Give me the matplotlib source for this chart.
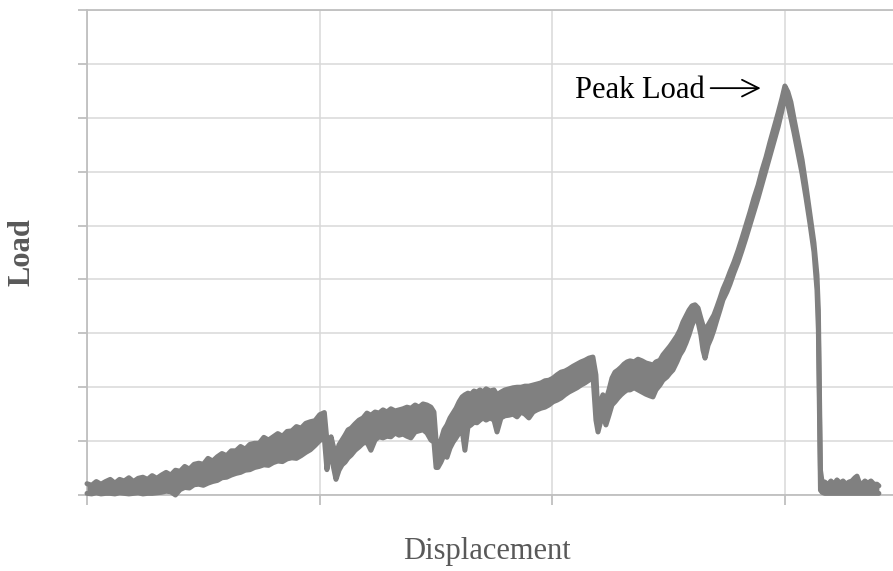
import matplotlib
matplotlib.use("Agg")
import matplotlib.pyplot as plt

# Load-displacement record, read off the picture as the upper and lower
# edge of the noisy band (displacement in mm, load in kN)

# pre-cracking part, 0 - 1.02 mm
disp_a = [0.00, 0.02, 0.04, 0.06, 0.08, 0.10, 0.12, 0.14, 0.16, 0.18,
          0.20, 0.22, 0.24, 0.26, 0.28, 0.30, 0.32, 0.34, 0.36, 0.38,
          0.40, 0.42, 0.44, 0.46, 0.48, 0.50, 0.52, 0.54, 0.56, 0.58,
          0.60, 0.62, 0.64, 0.66, 0.68, 0.70, 0.72, 0.74, 0.76, 0.78,
          0.80, 0.82, 0.84, 0.86, 0.88, 0.90, 0.92, 0.94, 0.96, 0.98,
          1.00, 1.02]
hi_a = [0.21, 0.18, 0.25, 0.20, 0.25, 0.29, 0.22, 0.29, 0.26, 0.32,
        0.25, 0.31, 0.33, 0.29, 0.36, 0.31, 0.37, 0.42, 0.37, 0.46,
        0.44, 0.53, 0.48, 0.57, 0.59, 0.57, 0.68, 0.63, 0.71, 0.77,
        0.73, 0.82, 0.82, 0.90, 0.85, 0.94, 0.96, 0.96, 1.07, 1.02,
        1.08, 1.14, 1.09, 1.18, 1.19, 1.27, 1.24, 1.33, 1.36, 1.38,
        1.49, 1.53]
lo_a = [0.03, 0.02, 0.04, 0.02, 0.03, 0.03, 0.02, 0.04, 0.03, 0.02,
        0.03, 0.04, 0.02, 0.03, 0.03, 0.04, 0.05, 0.07, 0.06, 0.00,
        0.10, 0.14, 0.13, 0.19, 0.20, 0.18, 0.22, 0.25, 0.27, 0.32,
        0.33, 0.37, 0.40, 0.42, 0.46, 0.47, 0.51, 0.53, 0.56, 0.55,
        0.60, 0.63, 0.62, 0.67, 0.69, 0.68, 0.73, 0.79, 0.84, 0.92,
        1.01, 1.05]

# load drops, peak and failure, 1.03 - 3.16 mm
disp_b = [1.031, 1.040, 1.049, 1.057, 1.070, 1.083, 1.096, 1.109, 1.122, 1.135,
          1.152, 1.169, 1.186, 1.203, 1.220, 1.238, 1.255, 1.272, 1.289, 1.306,
          1.324, 1.341, 1.358, 1.375, 1.392, 1.410, 1.427, 1.444, 1.461, 1.478,
          1.491, 1.500, 1.508, 1.521, 1.534, 1.547, 1.560, 1.573, 1.586, 1.599,
          1.612, 1.624, 1.637, 1.650, 1.663, 1.676, 1.689, 1.702, 1.715, 1.732,
          1.749, 1.762, 1.779, 1.796, 1.813, 1.831, 1.848, 1.865, 1.882, 1.899,
          1.917, 1.934, 1.951, 1.968, 1.985, 2.003, 2.020, 2.037, 2.054, 2.071,
          2.089, 2.106, 2.123, 2.140, 2.157, 2.174, 2.187, 2.196, 2.209, 2.217,
          2.230, 2.243, 2.256, 2.269, 2.282, 2.295, 2.308, 2.321, 2.334, 2.351,
          2.368, 2.385, 2.402, 2.419, 2.432, 2.445, 2.462, 2.475, 2.492, 2.505,
          2.518, 2.535, 2.548, 2.561, 2.574, 2.587, 2.600, 2.613, 2.626, 2.638,
          2.647, 2.656, 2.669, 2.682, 2.694, 2.707, 2.720, 2.733, 2.750, 2.763,
          2.780, 2.798, 2.815, 2.832, 2.849, 2.866, 2.884, 2.901, 2.918, 2.935,
          2.952, 2.970, 2.987, 2.999, 3.012, 3.025, 3.038, 3.055, 3.073, 3.090,
          3.107, 3.124, 3.137, 3.143, 3.148, 3.152, 3.159]
hi_b = [1.02, 0.93, 1.08, 0.93, 0.74, 0.93, 1.02, 1.11, 1.21, 1.24,
        1.32, 1.39, 1.43, 1.52, 1.48, 1.54, 1.52, 1.58, 1.54, 1.60,
        1.56, 1.58, 1.60, 1.63, 1.61, 1.67, 1.63, 1.69, 1.67, 1.63,
        1.54, 1.02, 0.74, 1.02, 1.21, 1.30, 1.43, 1.52, 1.61, 1.73,
        1.82, 1.86, 1.89, 1.87, 1.93, 1.91, 1.95, 1.91, 1.97, 1.93,
        1.95, 1.86, 1.91, 1.95, 1.97, 1.99, 2.00, 2.00, 2.02, 2.02,
        2.04, 2.06, 2.08, 2.12, 2.13, 2.17, 2.23, 2.28, 2.30, 2.34,
        2.39, 2.43, 2.47, 2.50, 2.54, 2.56, 2.23, 1.48, 1.76, 1.86,
        1.76, 1.95, 2.17, 2.28, 2.32, 2.37, 2.43, 2.47, 2.49, 2.47,
        2.52, 2.49, 2.45, 2.43, 2.41, 2.47, 2.50, 2.60, 2.69, 2.76,
        2.84, 2.95, 3.06, 3.21, 3.32, 3.43, 3.51, 3.53, 3.47, 3.28,
        3.15, 3.06, 3.15, 3.25, 3.34, 3.49, 3.65, 3.82, 3.99, 4.14,
        4.32, 4.54, 4.77, 5.01, 5.25, 5.51, 5.75, 6.03, 6.27, 6.55,
        6.81, 7.09, 7.37, 7.59, 7.48, 7.29, 6.99, 6.62, 6.22, 5.73,
        5.21, 4.68, 4.08, 3.43, 1.76, 0.46, 0.24]
lo_b = [0.47, 0.74, 0.80, 0.56, 0.29, 0.46, 0.56, 0.61, 0.69, 0.74,
        0.83, 0.89, 0.96, 0.98, 0.83, 1.02, 1.08, 1.06, 1.09, 1.08,
        1.15, 1.11, 1.13, 1.09, 1.06, 1.17, 1.19, 1.21, 1.15, 1.02,
        0.98, 0.51, 0.51, 0.61, 0.74, 0.70, 0.87, 0.98, 1.06, 1.15,
        1.21, 0.83, 1.26, 1.30, 1.35, 1.34, 1.39, 1.43, 1.39, 1.43,
        1.39, 1.17, 1.43, 1.47, 1.48, 1.50, 1.45, 1.54, 1.50, 1.43,
        1.54, 1.58, 1.61, 1.63, 1.67, 1.73, 1.76, 1.80, 1.86, 1.91,
        1.95, 1.99, 2.04, 2.08, 2.13, 2.23, 1.39, 1.17, 1.39, 1.48,
        1.30, 1.48, 1.67, 1.73, 1.80, 1.86, 1.91, 1.95, 1.95, 1.99,
        1.95, 1.91, 1.87, 1.84, 1.82, 1.95, 2.04, 2.13, 2.19, 2.26,
        2.32, 2.47, 2.60, 2.69, 2.82, 2.97, 3.15, 3.28, 3.21, 2.97,
        2.69, 2.54, 2.78, 2.91, 3.06, 3.25, 3.43, 3.62, 3.77, 3.91,
        4.12, 4.32, 4.54, 4.77, 5.01, 5.25, 5.51, 5.77, 6.03, 6.29,
        6.55, 6.83, 7.14, 7.42, 7.24, 6.99, 6.73, 6.36, 5.96, 5.51,
        5.03, 4.51, 3.80, 3.06, 1.39, 0.09, 0.05]

# after failure
disp_c = [3.171, 3.184, 3.197, 3.210, 3.223, 3.236, 3.249, 3.262, 3.274, 3.287,
          3.300, 3.309, 3.318, 3.330, 3.343, 3.356, 3.369, 3.382, 3.395, 3.403]
hi_c = [0.24, 0.19, 0.26, 0.20, 0.28, 0.22, 0.26, 0.20, 0.24, 0.26,
        0.32, 0.35, 0.24, 0.20, 0.26, 0.22, 0.26, 0.20, 0.20, 0.17]
lo_c = [0.03, 0.03, 0.03, 0.03, 0.03, 0.03, 0.03, 0.03, 0.03, 0.03,
        0.03, 0.03, 0.03, 0.03, 0.03, 0.03, 0.03, 0.03, 0.03, 0.03]

disp = disp_a + disp_b + disp_c
load_hi = hi_a + hi_b + hi_c
load_lo = lo_a + lo_b + lo_c
assert len(disp) == len(load_hi) == len(load_lo)

grey = "#808080"

fig = plt.figure(figsize=(8.93, 5.71), dpi=100)
ax = fig.add_axes([87/893, 76/571, 806/893, 485/571])

ax.fill_between(disp, load_lo, load_hi, color=grey, lw=0, clip_on=False, zorder=5)
for y in (load_hi, load_lo):
    ax.plot(disp, y, color=grey, lw=3.6, solid_joinstyle="round",
            solid_capstyle="round", clip_on=False, zorder=5)

ax.set_xlim(0, 806/232.7)
ax.set_ylim(0, 9)
ax.set_xticks([0, 1, 2, 3])
ax.set_yticks(range(10))
ax.set_xticklabels([])
ax.set_yticklabels([])
ax.grid(True, color="#d9d9d9", lw=1.1)
ax.set_axisbelow(True)
for s in ["left", "bottom", "top"]:
    ax.spines[s].set_color("#bfbfbf")
    ax.spines[s].set_linewidth(1.3)
ax.spines["right"].set_visible(False)
ax.tick_params(axis="both", direction="out", color="#bfbfbf", width=1.3)
ax.tick_params(axis="y", length=6.5)
ax.tick_params(axis="x", length=7)

serif = "Liberation Serif"
fig.text(22/893, 1 - 252/571, "Load", rotation=90, ha="center", va="center",
         family=serif, fontsize=22, fontweight="bold", color="#595959")
fig.text(487/893, 1 - 551/571, "Displacement", ha="center", va="center",
         family=serif, fontsize=22, color="#595959")

ax.text(2.656, 7.37, "Peak Load", ha="right", va="baseline",
        family=serif, fontsize=22, color="black")
ax.annotate("", xy=(2.895, 7.55), xytext=(2.68, 7.55),
            arrowprops=dict(arrowstyle="->, head_length=0.6, head_width=0.3",
                            color="black", lw=1.3, mutation_scale=20,
                            shrinkA=0, shrinkB=0))

fig.savefig("out.png", dpi=100)
